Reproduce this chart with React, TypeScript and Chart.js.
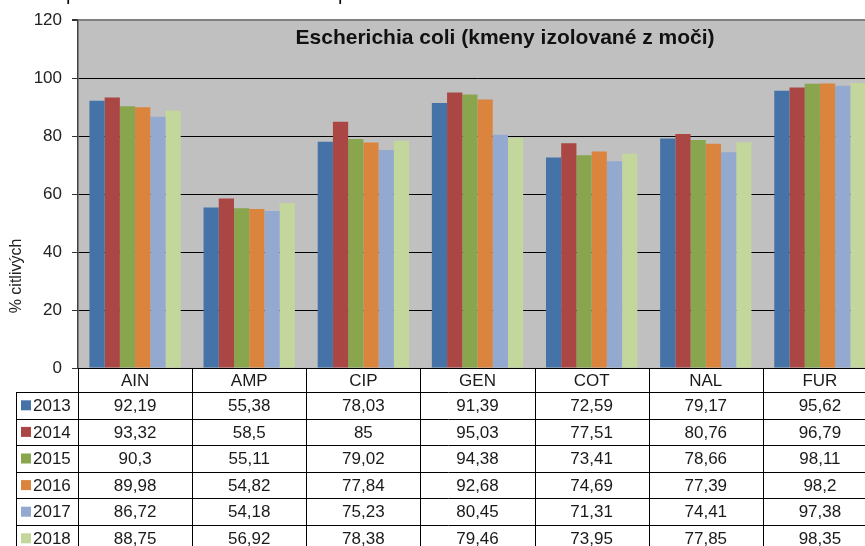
import React, { useEffect, useRef } from "react";
import { Chart, registerables } from "chart.js";

Chart.register(...registerables);

const categories = ["AIN", "AMP", "CIP", "GEN", "COT", "NAL", "FUR"];
const years = ["2013", "2014", "2015", "2016", "2017", "2018"];
const v2013 = [92.19, 55.38, 78.03, 91.39, 72.59, 79.17, 95.62];
const v2014 = [93.32, 58.5, 85, 95.03, 77.51, 80.76, 96.79];
const v2015 = [90.3, 55.11, 79.02, 94.38, 73.41, 78.66, 98.11];
const v2016 = [89.98, 54.82, 77.84, 92.68, 74.69, 77.39, 98.2];
const v2017 = [86.72, 54.18, 75.23, 80.45, 71.31, 74.41, 97.38];
const v2018 = [88.75, 56.92, 78.38, 79.46, 73.95, 77.85, 98.35];
const yTicks = [0, 20, 40, 60, 80, 100, 120];
const title = "Escherichia coli (kmeny izolované z moči)";
const yTitle = "% citlivých";
const clippedAbove = ["p", "p"];

const seriesValues = [v2013, v2014, v2015, v2016, v2017, v2018];
const colors = ["#4572A7", "#AA4643", "#89A54E", "#DB843D", "#93A9CF", "#C3D69B"];

const FONT = "'Liberation Sans', Arial, sans-serif";
const fmt = (n: number) => String(n).replace(".", ",");

export default function App() {
  const ref = useRef<HTMLCanvasElement | null>(null);
  useEffect(() => {
    if (!ref.current) return;
    const bgPlugin = {
      id: "bg",
      beforeDraw(chart: any) {
        const { ctx, chartArea: a } = chart;
        ctx.save();
        ctx.fillStyle = "#C0C0C0";
        ctx.fillRect(a.left, a.top, a.right - a.left, a.bottom - a.top);
        ctx.restore();
      },
      afterDraw(chart: any) {
        const { ctx, chartArea: a } = chart;
        const x = chart.scales.x;
        const catW = (a.right - a.left) / categories.length;
        ctx.save();
        // clipped text fragments from above
        ctx.fillStyle = "#111";
        ctx.font = `20px ${FONT}`;
        ctx.textAlign = "left";
        ctx.textBaseline = "alphabetic";
        ctx.fillText(clippedAbove[0], 66, -0.5);
        ctx.fillText(clippedAbove[1], 338, -0.5);
        // title
        ctx.fillStyle = "#111";
        ctx.font = `bold 21px ${FONT}`;
        ctx.textAlign = "center";
        ctx.textBaseline = "middle";
        ctx.fillText(title, 505, 38);
        // y title
        ctx.save();
        ctx.translate(17, 276);
        ctx.rotate(-Math.PI / 2);
        ctx.font = `16px ${FONT}`;
        ctx.fillStyle = "#222";
        ctx.fillText(yTitle, 0, 0);
        ctx.restore();
        // table
        const headTop = a.bottom;
        const headBot = 392;
        const rowH = 26.6;
        const leftCol = 16;
        const right = a.right + 10;
        ctx.strokeStyle = "#000";
        ctx.lineWidth = 1;
        ctx.beginPath();
        ctx.moveTo(a.left, headTop + 0.5);
        ctx.lineTo(right, headTop + 0.5);
        for (let r = 0; r <= years.length; r++) {
          const y = Math.round(headBot + r * rowH) + 0.5;
          ctx.moveTo(leftCol, y);
          ctx.lineTo(right, y);
        }
        ctx.moveTo(leftCol + 0.5, headBot);
        ctx.lineTo(leftCol + 0.5, 560);
        for (let i = 0; i <= categories.length; i++) {
          const cx = Math.round(a.left + i * catW) + 0.5;
          ctx.moveTo(cx, headTop);
          ctx.lineTo(cx, 560);
        }
        ctx.stroke();
        ctx.font = `17px ${FONT}`;
        ctx.fillStyle = "#1a1a1a";
        ctx.textAlign = "center";
        categories.forEach((c, i) => {
          const cx = x.getPixelForValue(i);
          ctx.fillText(c, cx, (headTop + headBot) / 2 + 1);
          seriesValues.forEach((vals, r) => {
            ctx.fillText(fmt(vals[i]), cx, headBot + r * rowH + rowH / 2 + 1);
          });
        });
        years.forEach((yr, r) => {
          const cy = headBot + r * rowH + rowH / 2;
          ctx.fillStyle = colors[r];
          ctx.fillRect(21, cy - 5, 10, 10);
          ctx.fillStyle = "#1a1a1a";
          ctx.textAlign = "left";
          ctx.fillText(yr, 33, cy + 1);
        });
        ctx.restore();
      },
    };
    const chart = new Chart(ref.current, {
      type: "bar",
      data: {
        labels: categories,
        datasets: years.map((y, i) => ({
          label: y,
          data: seriesValues[i],
          backgroundColor: colors[i],
          borderWidth: 0,
          categoryPercentage: 0.8,
          barPercentage: 1.0,
        })),
      },
      options: {
        animation: false,
        responsive: false,
        devicePixelRatio: 1,
        layout: { padding: { left: 0, right: 3, top: 18, bottom: 192 } },
        plugins: { legend: { display: false }, tooltip: { enabled: false } },
        scales: {
          x: { type: "category", display: false },
          y: {
            min: 0,
            max: 120,
            afterFit: (s: any) => { s.width = 78; },
            afterBuildTicks: (s: any) => { s.ticks = yTicks.map((v) => ({ value: v })); },
            ticks: { font: { size: 17, family: FONT }, color: "#222", padding: 10 },
            grid: {
              color: (c: any) => (c.tick && c.tick.value === 120 ? "#808080" : "#000"),
              tickColor: "#333",
              tickLength: 6,
              lineWidth: (c: any) => (c.tick && c.tick.value === 120 ? 2 : 1),
            },
            border: { display: true, color: "#404040", width: 1.5 },
          },
        },
      },
      plugins: [bgPlugin],
    });
    return () => chart.destroy();
  }, []);
  return (
    <div style={{ position: "absolute", left: 0, top: 0, width: 865, height: 546, overflow: "hidden", background: "#fff" }}>
      <canvas ref={ref} width={880} height={560} style={{ width: 880, height: 560, display: "block" }} />
    </div>
  );
}
